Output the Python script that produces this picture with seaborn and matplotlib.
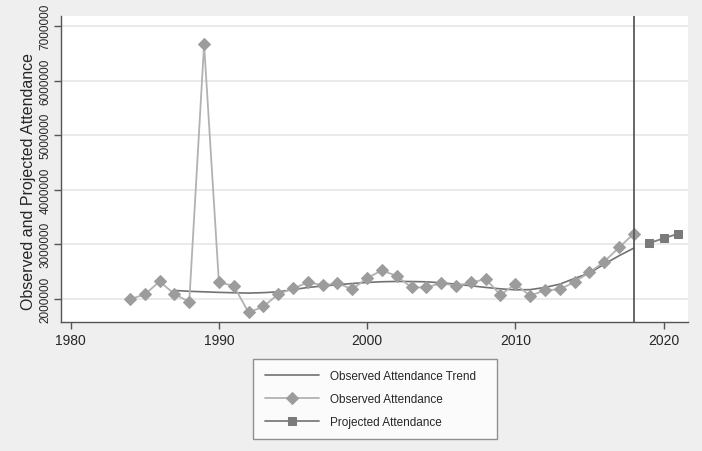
import matplotlib
matplotlib.use("Agg")
import matplotlib.pyplot as plt
import matplotlib.ticker as mticker
import seaborn as sns
import pandas as pd

# Observed attendance by year
obs_years = list(range(1984, 2019))
obs_values = [
    1990000, 2077000, 2316000, 2083000, 1942000, 6666000, 2297000, 2236000,
    1746000, 1856000, 2083000, 2187000, 2297000, 2248000, 2279000, 2175000,
    2377000, 2520000, 2414000, 2206000, 2206000, 2285000, 2236000, 2297000,
    2358000, 2070000, 2266000, 2052000, 2156000, 2169000, 2309000, 2481000,
    2677000, 2941000, 3191000,
]

# Smoothed trend of observed attendance
trend_years = list(range(1987, 2019))
trend_values = [
    2150000, 2135000, 2125000, 2115000, 2108000, 2102000, 2110000, 2125000,
    2165000, 2205000, 2232000, 2255000, 2278000, 2297000, 2310000, 2316000,
    2314000, 2309000, 2290000, 2266000, 2236000, 2206000, 2180000, 2162000,
    2165000, 2206000, 2266000, 2371000, 2469000, 2634000, 2787000, 2928000,
]

# Projected attendance
proj_years = [2019, 2020, 2021]
proj_values = [3015000, 3107000, 3191000]

x_ticks = [1980, 1990, 2000, 2010, 2020]
y_ticks = [2000000, 3000000, 4000000, 5000000, 6000000, 7000000]
cutoff_year = 2018

sns.set_theme(style="white")
plt.rcParams["font.family"] = ["Liberation Sans", "DejaVu Sans"]

fig = plt.figure(figsize=(7.02, 4.52), dpi=100, facecolor="#efefef")
ax = fig.add_axes([0.087, 0.285, 0.893, 0.677])
ax.set_facecolor("white")

trend_df = pd.DataFrame({"year": trend_years, "value": trend_values})
obs_df = pd.DataFrame({"year": obs_years, "value": obs_values})
proj_df = pd.DataFrame({"year": proj_years, "value": proj_values})

sns.lineplot(data=trend_df, x="year", y="value", ax=ax, color="#727272",
             linewidth=1.2, label="Observed Attendance Trend", zorder=3)
sns.lineplot(data=obs_df, x="year", y="value", ax=ax, color="#b2b2b2",
             linewidth=1.3, marker="D", markersize=6.3, markerfacecolor="#9c9c9c",
             markeredgecolor="#9c9c9c", label="Observed Attendance", zorder=4)
sns.lineplot(data=proj_df, x="year", y="value", ax=ax, color="#7c7c7c",
             linewidth=1.3, marker="s", markersize=6.0, markerfacecolor="#7a7a7a",
             markeredgecolor="#7a7a7a", label="Projected Attendance", zorder=4)

ax.axvline(cutoff_year, color="#5a5a5a", linewidth=1.3, zorder=5)

ax.set_xlim(1979.35, 2021.65)
ax.set_ylim(1568000, 7184000)
ax.set_xticks(x_ticks)
ax.set_yticks(y_ticks)
ax.yaxis.set_major_formatter(mticker.FuncFormatter(lambda v, p: f"{int(v)}"))
ax.grid(axis="y", color="#e8e8e8", linewidth=1.3)
ax.grid(axis="x", visible=False)
ax.set_axisbelow(True)

for side in ["top", "right"]:
    ax.spines[side].set_visible(False)
for side in ["left", "bottom"]:
    ax.spines[side].set_color("#555555")
    ax.spines[side].set_linewidth(1.0)

ax.tick_params(axis="both", which="major", direction="out", length=5,
               width=1.0, color="#555555", left=True, bottom=True)
ax.tick_params(axis="x", labelsize=10, pad=3)
ax.tick_params(axis="y", labelsize=8.5, pad=2)
for lbl in ax.get_yticklabels():
    lbl.set_rotation(90)
    lbl.set_va("center")

ax.set_xlabel("")
ax.set_ylabel("Observed and Projected Attendance", fontsize=11.5)
ax.yaxis.set_label_coords(-0.040, 0.462)

ax.get_legend().remove()
handles, labels = ax.get_legend_handles_labels()
leg = fig.legend(handles, labels, loc="center", mode="expand",
                 bbox_to_anchor=(253 / 702, 0.022, 244 / 702, 0.186),
                 ncol=1, frameon=True, fancybox=False, fontsize=8.5,
                 handlelength=4.6, handletextpad=0.9, borderpad=1.0,
                 labelspacing=0.9, borderaxespad=0)
leg.get_frame().set_edgecolor("#777777")
leg.get_frame().set_facecolor("white")
leg.get_frame().set_linewidth(1.0)

fig.savefig("out.png", dpi=100, facecolor=fig.get_facecolor())
